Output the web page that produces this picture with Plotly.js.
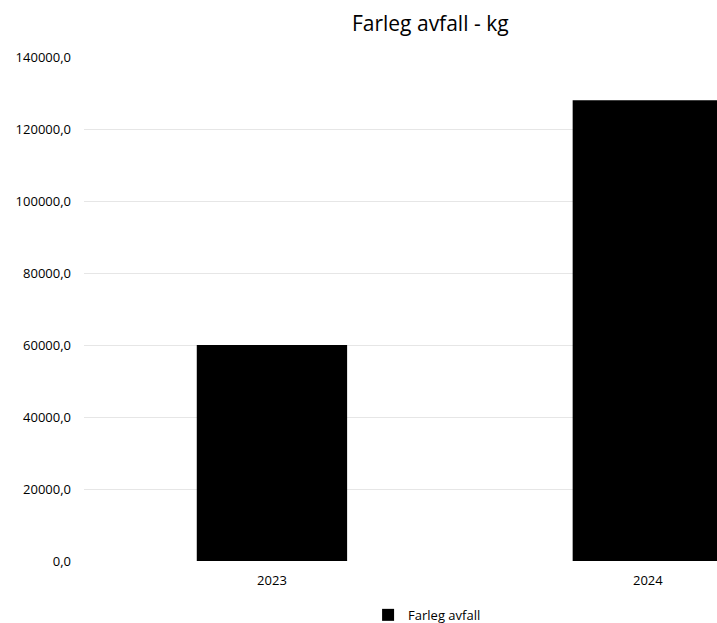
<!DOCTYPE html>
<html>
<head>
<meta charset="utf-8">
<script src="https://cdn.plot.ly/plotly-3.0.1.min.js"></script>
<style>html,body{margin:0;padding:0;background:#fff;}#chart{width:717px;height:623px;}</style>
</head>
<body>
<div id="chart"></div>
<script>
const categories = ["2023", "2024"];
const values = [60000, 128000];
const seriesName = "Farleg avfall";
const yTicks = [0, 20000, 40000, 60000, 80000, 100000, 120000, 140000];

const trace = {
  type: "bar",
  x: categories,
  y: values,
  name: seriesName,
  marker: {color: "#000000"},
  width: 0.4,
  showlegend: true
};

const layout = {
  width: 717,
  height: 623,
  margin: {l: 84, r: 0, t: 57, b: 62, autoexpand: false},
  paper_bgcolor: "#ffffff",
  plot_bgcolor: "#ffffff",
  separators: ",.",
  font: {family: "Open Sans, Noto Sans, sans-serif", size: 13, color: "#000"},
  title: {
    text: "Farleg avfall - kg",
    font: {size: 21, color: "#000"},
    x: 0.547, xref: "paper", xanchor: "center",
    y: 0.962, yref: "container", yanchor: "middle"
  },
  xaxis: {
    type: "category",
    range: [-0.5, 1.184],
    showgrid: false,
    zeroline: false,
    showline: false,
    ticks: "",
    tickfont: {size: 13},
    ticklabelstandoff: 10
  },
  yaxis: {
    range: [0, 140000],
    tickvals: yTicks,
    tickformat: ".1f",
    showgrid: true,
    gridcolor: "#e6e6e6",
    gridwidth: 1,
    zeroline: false,
    showline: false,
    ticks: "",
    tickfont: {size: 13},
    ticklabelstandoff: 12
  },
  showlegend: true,
  legend: {
    orientation: "h",
    x: 0.542, xanchor: "center",
    xref: "paper",
    y: 0.013, yref: "container", yanchor: "middle",
    font: {size: 13},
    itemwidth: 30
  },
  bargap: 0.6
};

Plotly.newPlot("chart", [trace], layout, {displayModeBar: false, staticPlot: true});
</script>
</body>
</html>
